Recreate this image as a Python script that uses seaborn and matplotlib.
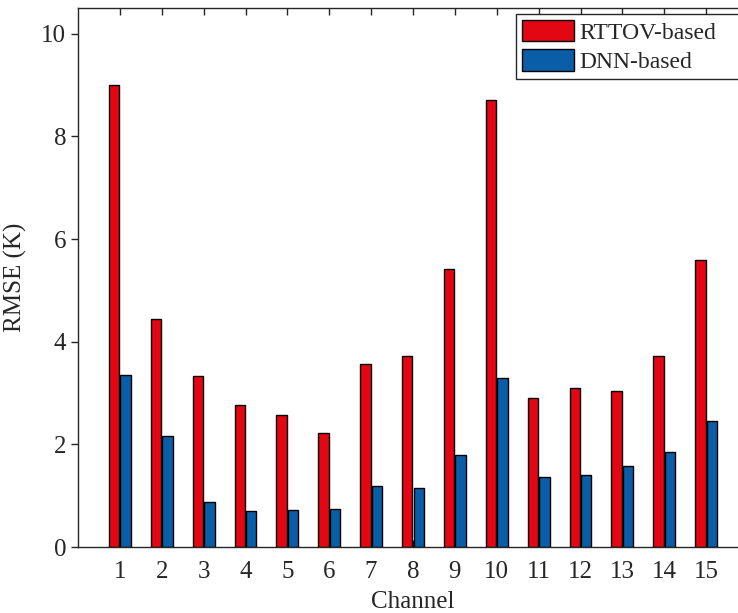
import matplotlib
matplotlib.use("Agg")
import matplotlib.pyplot as plt
import seaborn as sns
import pandas as pd

channels = [str(i) for i in range(1, 16)]
rttov = [9.00, 4.44, 3.34, 2.77, 2.58, 2.23, 3.56, 3.73, 5.41, 8.71, 2.91, 3.10, 3.04, 3.73, 5.60]
dnn = [3.36, 2.17, 0.88, 0.70, 0.72, 0.75, 1.18, 1.14, 1.79, 3.30, 1.37, 1.40, 1.58, 1.85, 2.46]
series = ["RTTOV-based", "DNN-based"]
colors = ["#E30613", "#0A5EA8"]
yticks = [0, 2, 4, 6, 8, 10]

df = pd.DataFrame({
    "Channel": channels * 2,
    "RMSE": rttov + dnn,
    "Method": [series[0]] * len(channels) + [series[1]] * len(channels),
})

sns.set_style("white")
plt.rcParams["font.family"] = ["Liberation Serif", "DejaVu Serif"]

fig = plt.figure(figsize=(7.38, 6.13), dpi=100)
ax = fig.add_axes([78 / 738, 66 / 613, 670 / 738, 539 / 613])

sns.barplot(data=df, x="Channel", y="RMSE", hue="Method", order=channels,
            hue_order=series, palette=dict(zip(series, colors)),
            width=0.55, gap=0.09, edgecolor="black", linewidth=1.0,
            saturation=1, ax=ax, legend=True)

ax.set_xlim(-1, 15)
ax.set_ylim(0, 10.5)
ax.set_yticks(yticks)
ax.set_yticklabels([str(v) for v in yticks])

dark = "#262626"
for name, s in ax.spines.items():
    s.set_visible(name != "right")
    s.set_color(dark)
    s.set_linewidth(1.0)

ax.tick_params(axis="x", direction="in", length=5, width=1, top=True, bottom=True,
               colors=dark, labelsize=18, pad=10, labelcolor=dark)
ax.tick_params(axis="y", direction="out", length=5, width=1, left=True, right=False,
               colors=dark, labelsize=18, labelcolor=dark)

ax.set_xlabel("Channel", fontsize=18, color=dark, labelpad=6)
ax.set_ylabel("RMSE (K)", fontsize=18, color=dark, labelpad=10)

handles, labels = ax.get_legend_handles_labels()
top = 1 - 14 / 613
leg = ax.legend(handles, labels, loc="upper left", mode="expand",
                bbox_to_anchor=(516 / 738, top - 0.2, 240 / 738, 0.2),
                bbox_transform=fig.transFigure,
                borderaxespad=0, fontsize=17, frameon=True, fancybox=False,
                framealpha=1, edgecolor=dark, handlelength=2.2, handleheight=1.0,
                handletextpad=0.25, labelspacing=0.25, borderpad=0.25)
leg.get_frame().set_linewidth(1.0)
for t in leg.get_texts():
    t.set_color(dark)

fig.savefig("out.png", dpi=100)
